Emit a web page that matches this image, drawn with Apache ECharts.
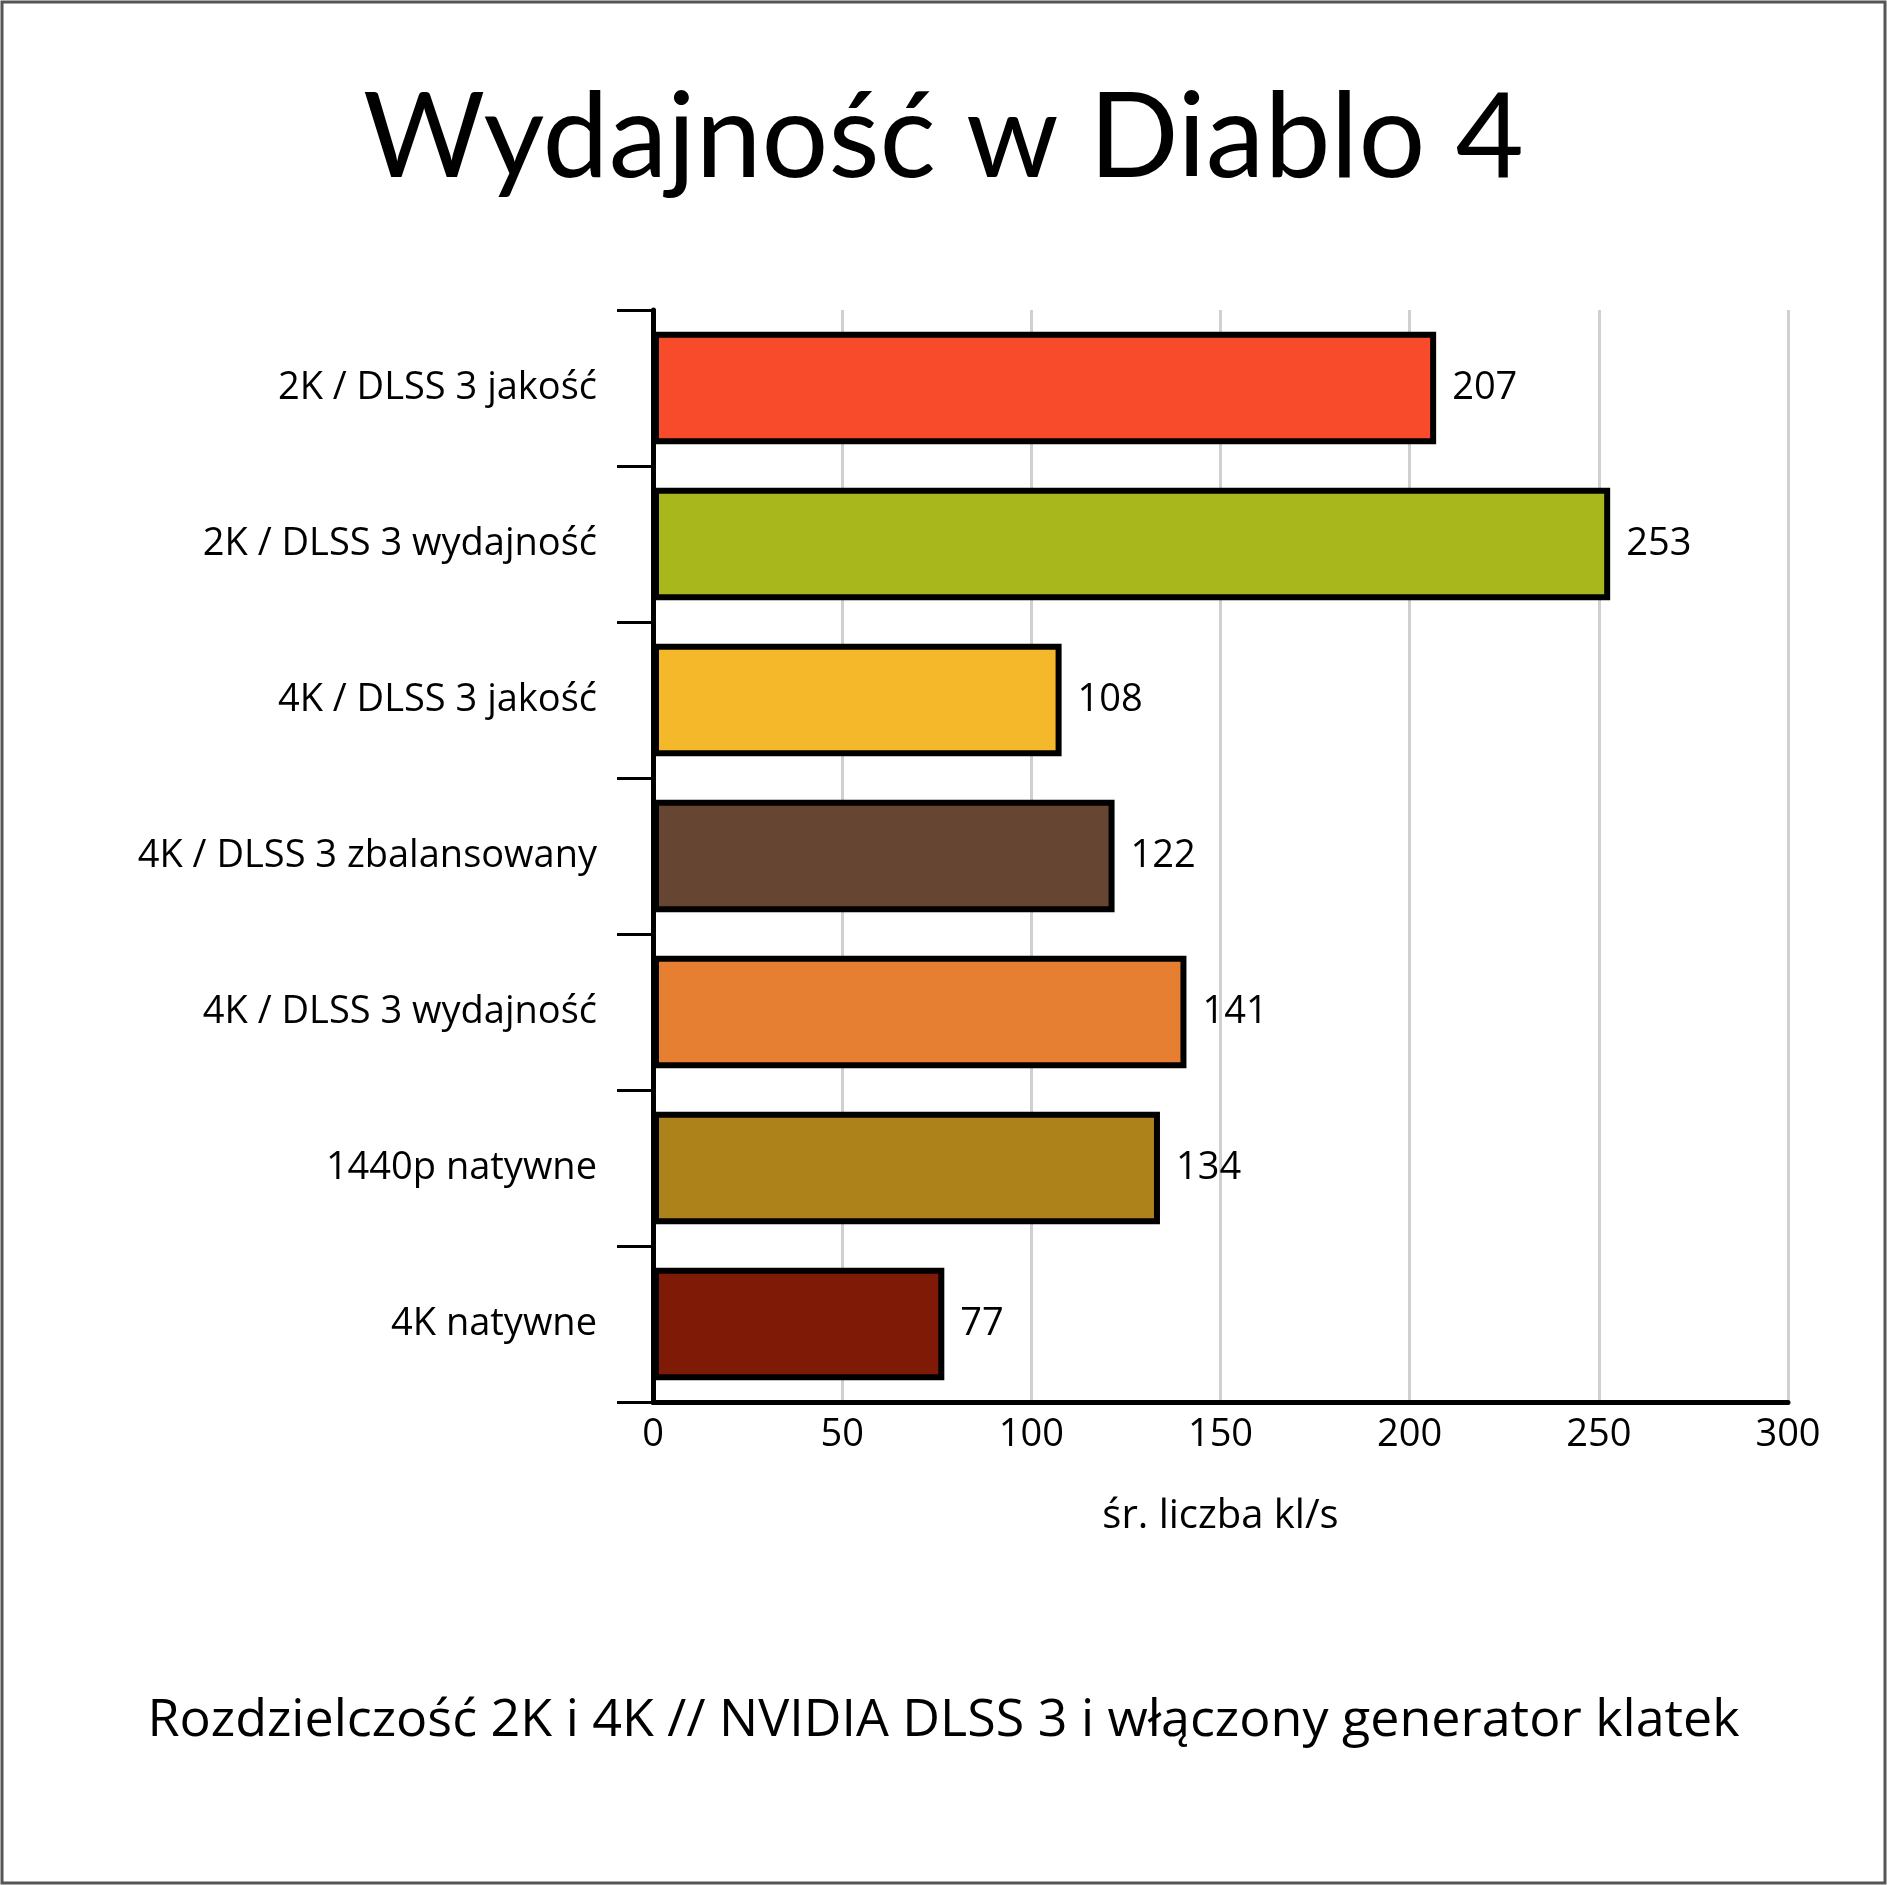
<!DOCTYPE html>
<html>
<head>
    <meta charset="utf-8">
    <title>Wydajność w Diablo 4</title>
    <script src="https://cdn.jsdelivr.net/npm/echarts@6/dist/echarts.min.js"></script>
    <style>
        html, body { margin: 0; padding: 0; background: #fff; }
        #chart { width: 1887px; height: 1885px; }
    </style>
</head>
<body>
<div id="chart"></div>
<script type="text/javascript">
    var categories = ['2K / DLSS 3 jakość', '2K / DLSS 3 wydajność', '4K / DLSS 3 jakość',
        '4K / DLSS 3 zbalansowany', '4K / DLSS 3 wydajność', '1440p natywne', '4K natywne'];
    var values = [207, 253, 108, 122, 141, 134, 77];
    var colors = ['#F74B2B', '#A8B71B', '#F5B82B', '#664533', '#E67F32', '#AD821B', '#7E1A06'];

    var chart = echarts.init(document.getElementById('chart'));
    var option = {
        backgroundColor: '#fff',
        title: [{
            text: 'Wydajność w Diablo 4',
            left: 'center',
            top: 75,
            textStyle: { fontFamily: 'Lato', fontWeight: 'normal', fontSize: 118, color: '#000' }
        }, {
            text: 'Rozdzielczość 2K i 4K // NVIDIA DLSS 3 i włączony generator klatek',
            left: 'center',
            top: 1690,
            textStyle: { fontFamily: 'Open Sans', fontWeight: 'normal', fontSize: 52, color: '#000' }
        }],
        graphic: [{
            type: 'rect',
            shape: { x: 2, y: 2, width: 1883, height: 1881 },
            style: { fill: 'none', stroke: '#555', lineWidth: 3 }
        }],
        grid: { left: 653, right: 99, top: 310, bottom: 483 },
        xAxis: {
            type: 'value',
            min: 0, max: 300, interval: 50,
            name: 'śr. liczba kl/s',
            nameLocation: 'middle',
            nameGap: 95,
            nameTextStyle: { fontFamily: 'Open Sans', fontSize: 40, color: '#000' },
            axisLine: { show: true, lineStyle: { color: '#000', width: 5 } },
            axisTick: { show: false },
            axisLabel: { fontFamily: 'Open Sans', fontSize: 38, color: '#000', margin: 14 },
            splitLine: { lineStyle: { color: '#d0d0d0', width: 3 } }
        },
        yAxis: {
            type: 'category',
            inverse: true,
            data: categories,
            axisLine: { lineStyle: { color: '#000', width: 5 } },
            axisTick: { show: true, length: 36, lineStyle: { color: '#000', width: 3 } },
            axisLabel: { fontFamily: 'Open Sans', fontSize: 38, color: '#000', margin: 56 }
        },
        series: [{
            type: 'bar',
            barWidth: '72%',
            data: values.map(function (v, i) {
                return { value: v, itemStyle: { color: colors[i] } };
            }),
            itemStyle: { borderColor: '#000', borderWidth: 6 },
            label: {
                show: true,
                position: 'right',
                distance: 16,
                fontFamily: 'Open Sans',
                fontSize: 38,
                color: '#000'
            }
        }]
    };
    chart.setOption(option);
</script>
</body>
</html>
